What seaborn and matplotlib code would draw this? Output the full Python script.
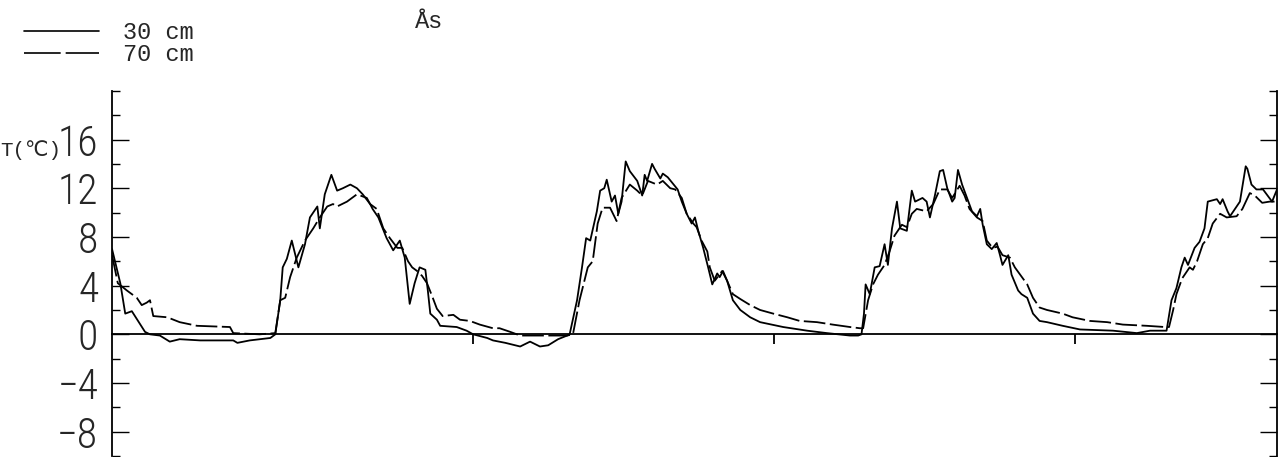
import matplotlib
matplotlib.use("Agg")
import matplotlib.pyplot as plt
import seaborn as sns
import pandas as pd
from matplotlib.ticker import MultipleLocator, FixedLocator, NullFormatter
from matplotlib.lines import Line2D

# ---- data (day since start of record, soil temperature in deg C) ----
day_30cm = [0, 10, 16, 24, 40, 46, 58, 70, 82, 107, 147, 152, 167, 192, 198, 204, 207, 212, 218, 226,
            234, 240, 249, 252, 258, 266, 273, 280, 289, 297, 304, 313, 316, 323, 333, 341, 349, 355,
            361, 367, 373, 380, 383, 386, 394, 398, 418, 430, 438, 455, 462, 477, 495, 507, 519, 529,
            541, 552, 555, 564, 570, 575, 580, 588, 592, 597, 600, 606, 610, 614, 618, 623, 628, 637,
            643, 646, 649, 655, 658, 665, 668, 674, 680, 686, 691, 697, 703, 707, 711, 717, 723, 728,
            734, 737, 741, 746, 753, 762, 774, 786, 814, 843, 867, 895, 905, 909, 912, 914, 919, 925,
            931, 937, 941, 946, 952, 956, 964, 970, 974, 983, 988, 992, 998, 1004, 1008, 1013, 1019,
            1022, 1026, 1031, 1037, 1043, 1049, 1053, 1056, 1061, 1067, 1073, 1077, 1080, 1087, 1091,
            1099, 1103, 1110, 1117, 1125, 1134, 1153, 1174, 1214, 1243, 1259, 1279, 1285, 1291, 1297,
            1301, 1305, 1313, 1319, 1325, 1329, 1340, 1344, 1347, 1353, 1356, 1362, 1368, 1375, 1377,
            1382, 1388, 1396, 1407, 1413]
temp_30cm = [7.0, 4.2, 1.7, 1.9, 0.2, 0.0, -0.1, -0.6, -0.4, -0.5, -0.5, -0.7, -0.5, -0.3, 0.0, 2.8,
             5.5, 6.2, 7.7, 5.5, 7.4, 9.6, 10.5, 8.7, 11.5, 13.1, 11.8, 12.0, 12.3, 12.0, 11.5, 10.7,
             10.3, 9.6, 7.9, 6.9, 7.7, 6.3, 2.5, 4.2, 5.5, 5.3, 3.6, 1.7, 1.2, 0.7, 0.6, 0.3, 0.0,
             -0.3, -0.5, -0.7, -1.0, -0.6, -1.0, -0.9, -0.4, -0.1, 0.0, 2.8, 5.5, 7.9, 7.7, 10.1,
             11.8, 12.0, 12.7, 10.9, 11.4, 9.9, 10.9, 14.2, 13.4, 12.6, 11.4, 13.1, 12.6, 14.0, 13.6,
             12.8, 13.2, 12.9, 12.4, 11.9, 10.9, 9.9, 9.1, 9.6, 8.5, 7.1, 5.5, 4.1, 5.0, 4.7, 5.2,
             4.4, 2.8, 2.0, 1.4, 1.0, 0.6, 0.3, 0.1, -0.1, -0.1, 0.0, 1.7, 4.1, 3.3, 5.5, 5.6, 7.4,
             5.7, 8.7, 10.9, 8.7, 8.5, 11.8, 10.9, 11.2, 10.9, 9.6, 11.4, 13.4, 13.5, 12.0, 10.9,
             11.2, 13.5, 12.3, 11.2, 10.1, 9.7, 10.3, 9.0, 7.4, 7.0, 7.5, 6.5, 5.7, 6.5, 4.9, 3.6,
             3.3, 3.0, 1.7, 1.1, 1.0, 0.7, 0.4, 0.3, 0.1, 0.3, 0.3, 2.8, 3.8, 5.5, 6.3, 5.7, 7.1,
             7.6, 8.7, 10.9, 11.1, 10.7, 11.1, 10.1, 9.7, 10.3, 10.9, 13.8, 13.6, 12.3, 11.9, 11.9,
             10.9, 11.9]

day_70cm = [0, 7, 18, 30, 36, 42, 46, 50, 67, 82, 103, 143, 147, 179, 198, 204, 210, 216, 224, 234,
            244, 252, 261, 268, 273, 285, 297, 309, 313, 321, 329, 337, 346, 352, 359, 364, 370, 376,
            382, 389, 394, 401, 414, 422, 434, 446, 462, 470, 483, 495, 552, 559, 567, 577, 583, 589,
            595, 604, 612, 618, 628, 637, 643, 650, 661, 668, 677, 683, 691, 697, 705, 709, 715, 722,
            725, 731, 740, 746, 753, 762, 774, 786, 802, 819, 834, 855, 874, 895, 907, 911, 917, 923,
            929, 937, 943, 949, 958, 964, 970, 976, 988, 996, 1004, 1013, 1019, 1028, 1034, 1040,
            1049, 1056, 1061, 1068, 1074, 1080, 1089, 1095, 1110, 1117, 1125, 1134, 1153, 1165, 1186,
            1207, 1226, 1255, 1277, 1282, 1287, 1291, 1298, 1307, 1311, 1316, 1323, 1329, 1335, 1344,
            1352, 1364, 1371, 1380, 1386, 1395, 1404, 1413]
temp_70cm = [6.5, 4.2, 3.6, 3.0, 2.4, 2.6, 2.8, 1.5, 1.4, 1.0, 0.7, 0.6, 0.1, 0.0, 0.1, 2.8, 3.0, 4.7,
             6.3, 7.7, 8.7, 9.6, 10.5, 10.7, 10.5, 10.9, 11.5, 11.2, 10.7, 10.3, 8.7, 7.9, 7.1, 7.1,
             6.0, 5.5, 5.2, 4.8, 4.2, 3.0, 2.1, 1.5, 1.6, 1.2, 1.1, 0.8, 0.5, 0.5, 0.2, -0.1, -0.1,
             0.0, 2.8, 5.5, 6.0, 9.1, 10.4, 10.4, 9.3, 11.2, 12.3, 11.8, 11.4, 12.6, 12.3, 12.6, 12.0,
             11.9, 11.2, 9.9, 9.1, 8.8, 7.7, 6.8, 5.5, 4.4, 5.2, 4.4, 3.3, 2.9, 2.4, 2.0, 1.7, 1.4,
             1.1, 1.0, 0.8, 0.6, 0.5, 0.5, 2.8, 4.1, 4.9, 5.7, 6.8, 8.1, 9.0, 8.8, 9.9, 10.3, 10.1,
             10.7, 11.9, 11.9, 11.2, 12.2, 11.4, 10.3, 9.6, 9.3, 7.7, 7.1, 7.2, 6.5, 6.3, 5.5, 4.1,
             3.0, 2.2, 2.0, 1.7, 1.4, 1.1, 1.0, 0.8, 0.7, 0.6, 0.6, 2.0, 3.3, 4.6, 5.5, 5.3, 6.0,
             7.4, 7.9, 9.1, 9.9, 9.6, 9.7, 10.3, 11.6, 11.4, 10.8, 10.9, 10.9]

depth_labels = ["30 cm", "70 cm"]
year_ticks = [438, 803, 1168]
y_tick_values = [-8, -4, 0, 4, 8, 12, 16]
site_title = "Ås"
y_label = "T(℃)"

df = pd.concat([
    pd.DataFrame({"day": day_30cm, "T": temp_30cm, "depth": depth_labels[0]}),
    pd.DataFrame({"day": day_70cm, "T": temp_70cm, "depth": depth_labels[1]}),
], ignore_index=True)

sns.set_theme(style="white")
plt.rcParams["font.family"] = ["DejaVu Sans"]

fig = plt.figure(figsize=(12.85, 4.57), dpi=100)
ax = fig.add_axes([0.0872, 0.002, 0.9066, 0.7993])

sns.lineplot(data=df, x="day", y="T", style="depth", color="black",
             dashes={depth_labels[0]: "", depth_labels[1]: (12, 2.5)},
             estimator=None, sort=False, linewidth=1.3, ax=ax, legend=False)

ax.set_xlim(0, 1413)
ax.set_ylim(-10, 20)
ax.set_xlabel("")
ax.set_ylabel("")

ax.spines["top"].set_visible(False)
ax.spines["bottom"].set_position(("data", 0))
for s in ["left", "right", "bottom"]:
    ax.spines[s].set_color("black")
    ax.spines[s].set_linewidth(1.3)

ax.xaxis.set_major_locator(FixedLocator(year_ticks))
ax.xaxis.set_major_formatter(NullFormatter())
ax.tick_params(axis="x", which="major", direction="out", length=7, width=1.3, color="black",
               bottom=True, labelbottom=False)

ax.yaxis.set_major_locator(FixedLocator(y_tick_values))
ax.set_yticklabels([("\u2212" + str(-v)) if v < 0 else str(v) for v in y_tick_values])
ax.yaxis.set_minor_locator(MultipleLocator(2))
ax.tick_params(axis="y", which="major", direction="in", length=12, width=1.0, color="black",
               left=True, right=True, pad=10, labelsize=30)
ax.tick_params(axis="y", which="minor", direction="in", length=6, width=1.0, color="black",
               left=True, right=True)
for lab in ax.get_yticklabels():
    lab.set_family("Roboto Condensed")
    lab.set_fontweight(300)

# legend
handles = [Line2D([], [], color="black", lw=1.2),
           Line2D([], [], color="black", lw=1.2, dashes=(22, 3))]
fig.legend(handles, depth_labels, loc="upper left", bbox_to_anchor=(0.002, 1.0),
           frameon=False, handlelength=3.2, handletextpad=1.0, labelspacing=-0.05,
           prop={"family": "Liberation Mono", "size": 17})

fig.text(0.323, 0.952, site_title, family="Liberation Mono", fontsize=17, va="center")
fig.text(0.0, 1 - 150 / 457, y_label, family=["Liberation Mono", "DejaVu Sans"], fontsize=15,
         va="center", ha="left")

fig.savefig("out.png", dpi=100)
